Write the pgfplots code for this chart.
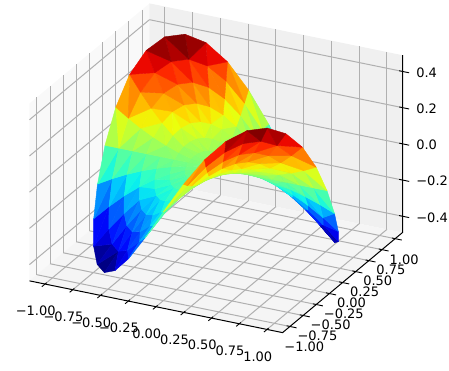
\documentclass[border=0pt]{standalone}
\usepackage{fontspec}
\setmainfont{DejaVu Sans}
\usepackage{etoolbox}
\usepackage{pgfplots}
\pgfplotsset{compat=1.18}
\usepgfplotslibrary{patchplots}

% triangles of the polar grid (vertex 0 is the centre, then 8 radii per angle)
\def\conn{}
\foreach \a in {0,...,35}{
  \pgfmathtruncatemacro\b{mod(\a+1,36)}
  \pgfmathtruncatemacro\ai{1+8*\a}
  \pgfmathtruncatemacro\bi{1+8*\b}
  \xappto\conn{0 \ai\space \bi\noexpand\\}
  \foreach \k in {0,...,6}{
    \pgfmathtruncatemacro\p{\ai+\k}
    \pgfmathtruncatemacro\q{\bi+\k}
    \pgfmathtruncatemacro\r{\q+1}
    \pgfmathtruncatemacro\s{\p+1}
    \pgfmathtruncatemacro\d{mod(\a*\a+\a*\k+\k*\k+\a,5)}
    \ifnum\d<3
      \xappto\conn{\p\space \q\space \r\noexpand\\ \p\space \r\space \s\noexpand\\}
    \else
      \xappto\conn{\p\space \q\space \s\noexpand\\ \q\space \r\space \s\noexpand\\}
    \fi
  }
}

\begin{document}
\begin{tikzpicture}[font=\fontsize{13}{15}\selectfont]
\path[use as bounding box] (-216pt,-202pt) rectangle (233pt,168pt);
% panes
\fill[black!2.5] (-186.5pt,-112.8pt) -- (-66.5pt,-12.8pt) -- (-66.5pt,164.6pt) -- (-186.5pt,64.6pt) -- cycle;
\fill[black!6] (-66.5pt,-12.8pt) -- (186.5pt,-64.6pt) -- (186.5pt,112.8pt) -- (-66.5pt,164.6pt) -- cycle;
\fill[black!4] (-186.5pt,-112.8pt) -- (66.5pt,-164.6pt) -- (186.5pt,-64.6pt) -- (-66.5pt,-12.8pt) -- cycle;
\begin{axis}[
  at={(0pt,0pt)}, anchor=origin,
  x={(111pt,-22.7pt)}, y={(52.6pt,43.9pt)}, z={(0pt,181pt)},
  xmin=-1.14, xmax=1.14, ymin=-1.14, ymax=1.14, zmin=-0.49, zmax=0.49,
  xtick={-1,-0.75,-0.5,-0.25,0,0.25,0.5,0.75,1},
  ytick={-1,-0.75,-0.5,-0.25,0,0.25,0.5,0.75,1},
  ztick={-0.4,-0.2,0,0.2,0.4},
  xticklabels={−1.00,−0.75,−0.50,−0.25,0.00,0.25,0.50,0.75,1.00},
  yticklabels={−1.00,−0.75,−0.50,−0.25,0.00,0.25,0.50,0.75,1.00},
  zticklabels={−0.4,−0.2,0.0,0.2,0.4},
  scaled ticks=false,
  3d box=background,
  grid=major,
  major grid style={color=black!31, line width=1pt},
  axis line style={draw=none},
  tick style={draw=none},
  major tick length=6pt,
  tick align=center,
  xtick pos=lower, ytick pos=lower, ztick pos=right,
  xticklabel pos=lower, yticklabel pos=lower, zticklabel pos=right,
  xticklabel style={anchor=center, xshift=-7pt, yshift=-25pt},
  yticklabel style={anchor=west, xshift=-12pt, yshift=-20pt},
  zticklabel style={anchor=west, xshift=8pt, yshift=-3pt},
  colormap={mpljet}{
    rgb255=(0,0,128) rgb255=(0,0,128) rgb255=(0,0,180) rgb255=(0,0,233) rgb255=(0,11,255)
    rgb255=(0,58,255) rgb255=(0,104,255) rgb255=(0,150,255) rgb255=(0,197,255)
    rgb255=(11,243,236) rgb255=(48,255,198) rgb255=(86,255,161) rgb255=(123,255,123)
    rgb255=(161,255,86) rgb255=(198,255,48) rgb255=(236,255,11) rgb255=(255,215,0)
    rgb255=(255,172,0) rgb255=(255,129,0) rgb255=(255,87,0) rgb255=(255,43,0)
    rgb255=(233,1,0) rgb255=(180,0,0) rgb255=(128,0,0) rgb255=(128,0,0)},
  point meta min=-0.48, point meta max=0.48,
  clip=false,
]
\addplot3[patch, patch type=triangle, shader=flat, z buffer=sort,
  point meta=z, table/row sep=\\,
  patch table/.expand once=\conn]
table[row sep=\\] {
x y z\\
0 0 0\\
.125 0 0\\ .25 0 0\\ .375 0 0\\ .5 0 0\\ .625 0 0\\ .75 0 0\\ .875 0 0\\ 1 0 0\\
.123 .022 -.0027\\ .246 .043 -.0107\\ .369 .065 -.0240\\ .492 .087 -.0427\\ .616 .109 -.0668\\ .739 .130 -.0960\\ .862 .152 -.1305\\ .985 .174 -.1702\\
.117 .043 -.0050\\ .235 .086 -.0201\\ .352 .128 -.0452\\ .470 .171 -.0803\\ .587 .214 -.1252\\ .705 .257 -.1798\\ .822 .299 -.2436\\ .940 .342 -.3159\\
.108 .063 -.0068\\ .217 .125 -.0271\\ .325 .188 -.0609\\ .433 .250 -.1080\\ .541 .313 -.1683\\ .650 .375 -.2412\\ .758 .438 -.3255\\ .866 .500 -.4196\\
.096 .080 -.0077\\ .192 .161 -.0308\\ .287 .241 -.0692\\ .383 .321 -.1228\\ .479 .402 -.1911\\ .575 .482 -.2735\\ .670 .562 -.3681\\ .766 .643 -.4727\\
.080 .096 -.0077\\ .161 .192 -.0308\\ .241 .287 -.0692\\ .321 .383 -.1228\\ .402 .479 -.1911\\ .482 .575 -.2735\\ .562 .670 -.3681\\ .643 .766 -.4727\\
.063 .108 -.0068\\ .125 .217 -.0271\\ .188 .325 -.0609\\ .250 .433 -.1080\\ .313 .541 -.1683\\ .375 .650 -.2412\\ .438 .758 -.3255\\ .500 .866 -.4196\\
.043 .117 -.0050\\ .086 .235 -.0201\\ .128 .352 -.0452\\ .171 .470 -.0803\\ .214 .587 -.1252\\ .257 .705 -.1798\\ .299 .822 -.2436\\ .342 .940 -.3159\\
.022 .123 -.0027\\ .043 .246 -.0107\\ .065 .369 -.0240\\ .087 .492 -.0427\\ .109 .616 -.0668\\ .130 .739 -.0960\\ .152 .862 -.1305\\ .174 .985 -.1702\\
0 .125 0\\ 0 .25 0\\ 0 .375 0\\ 0 .5 0\\ 0 .625 0\\ 0 .75 0\\ 0 .875 0\\ 0 1 0\\
-.022 .123 .0027\\ -.043 .246 .0107\\ -.065 .369 .0240\\ -.087 .492 .0427\\ -.109 .616 .0668\\ -.130 .739 .0960\\ -.152 .862 .1305\\ -.174 .985 .1702\\
-.043 .117 .0050\\ -.086 .235 .0201\\ -.128 .352 .0452\\ -.171 .470 .0803\\ -.214 .587 .1252\\ -.257 .705 .1798\\ -.299 .822 .2436\\ -.342 .940 .3159\\
-.063 .108 .0068\\ -.125 .217 .0271\\ -.188 .325 .0609\\ -.250 .433 .1080\\ -.313 .541 .1683\\ -.375 .650 .2412\\ -.438 .758 .3255\\ -.500 .866 .4196\\
-.080 .096 .0077\\ -.161 .192 .0308\\ -.241 .287 .0692\\ -.321 .383 .1228\\ -.402 .479 .1911\\ -.482 .575 .2735\\ -.562 .670 .3681\\ -.643 .766 .4727\\
-.096 .080 .0077\\ -.192 .161 .0308\\ -.287 .241 .0692\\ -.383 .321 .1228\\ -.479 .402 .1911\\ -.575 .482 .2735\\ -.670 .562 .3681\\ -.766 .643 .4727\\
-.108 .063 .0068\\ -.217 .125 .0271\\ -.325 .188 .0609\\ -.433 .250 .1080\\ -.541 .313 .1683\\ -.650 .375 .2412\\ -.758 .438 .3255\\ -.866 .500 .4196\\
-.117 .043 .0050\\ -.235 .086 .0201\\ -.352 .128 .0452\\ -.470 .171 .0803\\ -.587 .214 .1252\\ -.705 .257 .1798\\ -.822 .299 .2436\\ -.940 .342 .3159\\
-.123 .022 .0027\\ -.246 .043 .0107\\ -.369 .065 .0240\\ -.492 .087 .0427\\ -.616 .109 .0668\\ -.739 .130 .0960\\ -.862 .152 .1305\\ -.985 .174 .1702\\
-.125 0 0\\ -.25 0 0\\ -.375 0 0\\ -.5 0 0\\ -.625 0 0\\ -.75 0 0\\ -.875 0 0\\ -1 0 0\\
-.123 -.022 -.0027\\ -.246 -.043 -.0107\\ -.369 -.065 -.0240\\ -.492 -.087 -.0427\\ -.616 -.109 -.0668\\ -.739 -.130 -.0960\\ -.862 -.152 -.1305\\ -.985 -.174 -.1702\\
-.117 -.043 -.0050\\ -.235 -.086 -.0201\\ -.352 -.128 -.0452\\ -.470 -.171 -.0803\\ -.587 -.214 -.1252\\ -.705 -.257 -.1798\\ -.822 -.299 -.2436\\ -.940 -.342 -.3159\\
-.108 -.063 -.0068\\ -.217 -.125 -.0271\\ -.325 -.188 -.0609\\ -.433 -.250 -.1080\\ -.541 -.313 -.1683\\ -.650 -.375 -.2412\\ -.758 -.438 -.3255\\ -.866 -.500 -.4196\\
-.096 -.080 -.0077\\ -.192 -.161 -.0308\\ -.287 -.241 -.0692\\ -.383 -.321 -.1228\\ -.479 -.402 -.1911\\ -.575 -.482 -.2735\\ -.670 -.562 -.3681\\ -.766 -.643 -.4727\\
-.080 -.096 -.0077\\ -.161 -.192 -.0308\\ -.241 -.287 -.0692\\ -.321 -.383 -.1228\\ -.402 -.479 -.1911\\ -.482 -.575 -.2735\\ -.562 -.670 -.3681\\ -.643 -.766 -.4727\\
-.063 -.108 -.0068\\ -.125 -.217 -.0271\\ -.188 -.325 -.0609\\ -.250 -.433 -.1080\\ -.313 -.541 -.1683\\ -.375 -.650 -.2412\\ -.438 -.758 -.3255\\ -.500 -.866 -.4196\\
-.043 -.117 -.0050\\ -.086 -.235 -.0201\\ -.128 -.352 -.0452\\ -.171 -.470 -.0803\\ -.214 -.587 -.1252\\ -.257 -.705 -.1798\\ -.299 -.822 -.2436\\ -.342 -.940 -.3159\\
-.022 -.123 -.0027\\ -.043 -.246 -.0107\\ -.065 -.369 -.0240\\ -.087 -.492 -.0427\\ -.109 -.616 -.0668\\ -.130 -.739 -.0960\\ -.152 -.862 -.1305\\ -.174 -.985 -.1702\\
0 -.125 0\\ 0 -.25 0\\ 0 -.375 0\\ 0 -.5 0\\ 0 -.625 0\\ 0 -.75 0\\ 0 -.875 0\\ 0 -1 0\\
.022 -.123 .0027\\ .043 -.246 .0107\\ .065 -.369 .0240\\ .087 -.492 .0427\\ .109 -.616 .0668\\ .130 -.739 .0960\\ .152 -.862 .1305\\ .174 -.985 .1702\\
.043 -.117 .0050\\ .086 -.235 .0201\\ .128 -.352 .0452\\ .171 -.470 .0803\\ .214 -.587 .1252\\ .257 -.705 .1798\\ .299 -.822 .2436\\ .342 -.940 .3159\\
.063 -.108 .0068\\ .125 -.217 .0271\\ .188 -.325 .0609\\ .250 -.433 .1080\\ .313 -.541 .1683\\ .375 -.650 .2412\\ .438 -.758 .3255\\ .500 -.866 .4196\\
.080 -.096 .0077\\ .161 -.192 .0308\\ .241 -.287 .0692\\ .321 -.383 .1228\\ .402 -.479 .1911\\ .482 -.575 .2735\\ .562 -.670 .3681\\ .643 -.766 .4727\\
.096 -.080 .0077\\ .192 -.161 .0308\\ .287 -.241 .0692\\ .383 -.321 .1228\\ .479 -.402 .1911\\ .575 -.482 .2735\\ .670 -.562 .3681\\ .766 -.643 .4727\\
.108 -.063 .0068\\ .217 -.125 .0271\\ .325 -.188 .0609\\ .433 -.250 .1080\\ .541 -.313 .1683\\ .650 -.375 .2412\\ .758 -.438 .3255\\ .866 -.500 .4196\\
.117 -.043 .0050\\ .235 -.086 .0201\\ .352 -.128 .0452\\ .470 -.171 .0803\\ .587 -.214 .1252\\ .705 -.257 .1798\\ .822 -.299 .2436\\ .940 -.342 .3159\\
.123 -.022 .0027\\ .246 -.043 .0107\\ .369 -.065 .0240\\ .492 -.087 .0427\\ .616 -.109 .0668\\ .739 -.130 .0960\\ .862 -.152 .1305\\ .985 -.174 .1702\\
};
\draw[black, line width=1pt] (axis cs:-1.14,-1.14,-0.49) -- (axis cs:1.14,-1.14,-0.49) -- (axis cs:1.14,1.14,-0.49) -- (axis cs:1.14,1.14,0.49);
% tick marks run on along the grid lines, as on the panes
\pgfplotsinvokeforeach{-1,-0.75,-0.5,-0.25,0,0.25,0.5,0.75,1}{
  \draw[black, line width=0.9pt] (axis cs:#1,-1.11,-0.49) -- (axis cs:#1,-1.2,-0.49);
  \draw[black, line width=0.9pt] (axis cs:1.11,#1,-0.49) -- (axis cs:1.2,#1,-0.49);
}
\pgfplotsinvokeforeach{-0.4,-0.2,0,0.2,0.4}{
  \draw[black, line width=0.9pt] (axis cs:1.11,1.14,#1) -- (axis cs:1.2,1.14,#1);
}
\end{axis}
\end{tikzpicture}
\end{document}
